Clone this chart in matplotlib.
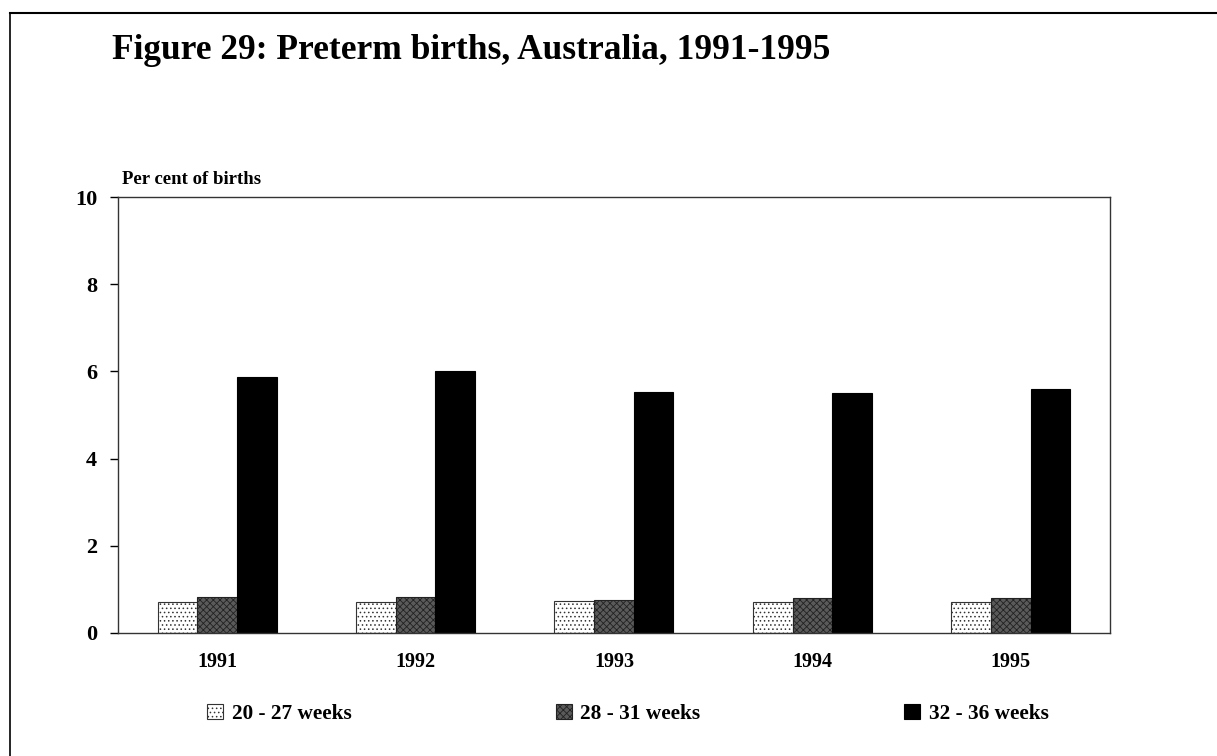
import numpy as np
import matplotlib.pyplot as plt
from matplotlib.lines import Line2D

plt.rcParams['font.family'] = ['Liberation Serif', 'DejaVu Serif']
plt.rcParams['font.weight'] = 'bold'
plt.rcParams['hatch.linewidth'] = 0.6

years = ['1991', '1992', '1993', '1994', '1995']
labels = ['20 - 27 weeks', '28 - 31 weeks', '32 - 36 weeks']
w20_27 = [0.70, 0.70, 0.72, 0.70, 0.70]
w28_31 = [0.83, 0.83, 0.76, 0.79, 0.79]
w32_36 = [5.88, 6.02, 5.52, 5.50, 5.60]

fig = plt.figure(figsize=(12.17, 7.56), dpi=100)
ax = fig.add_axes([0.097, 0.163, 0.815, 0.576])

x = np.arange(len(years))
bw = 0.2
ax.bar(x - bw, w20_27, bw, facecolor='white', edgecolor='#333333', hatch='....',
       linewidth=0.8, label=labels[0])
ax.bar(x, w28_31, bw, facecolor='#5a5a5a', edgecolor='#222222', hatch='xxxxx',
       linewidth=0.8, label=labels[1])
ax.bar(x + bw, w32_36, bw, facecolor='black', edgecolor='black',
       linewidth=0.8, label=labels[2])

ax.set_xlim(-0.5, 4.5)
ax.set_ylim(0, 10)
ax.set_yticks([0, 2, 4, 6, 8, 10])
ax.set_xticks(x)
ax.set_xticklabels(years)
ax.tick_params(axis='x', length=0, pad=14, labelsize=14.5)
ax.tick_params(axis='y', length=6, width=1, direction='out', pad=9, labelsize=16)
for s in ax.spines.values():
    s.set_linewidth(1.0)
    s.set_color('#333333')

ax.text(0.004, 1.022, 'Per cent of births', transform=ax.transAxes,
        fontsize=13.5, fontweight='bold', ha='left', va='bottom')

fig.text(0.092, 0.933, 'Figure 29: Preterm births, Australia, 1991-1995',
         fontsize=25.5, fontweight='bold', ha='left', va='center')

fig.legend(loc='center', bbox_to_anchor=(0.516, 0.056), ncol=3, frameon=False,
           fontsize=15.3, handlelength=0.75, handleheight=0.75, handletextpad=0.4,
           columnspacing=9.6)

# outer frame of the page
fig.add_artist(Line2D([0.008, 1.0], [0.983, 0.983], color='black', lw=1.5,
                      transform=fig.transFigure))
fig.add_artist(Line2D([0.008, 0.008], [0.0, 0.983], color='black', lw=1.2,
                      transform=fig.transFigure))

fig.savefig('out.png', dpi=100)
